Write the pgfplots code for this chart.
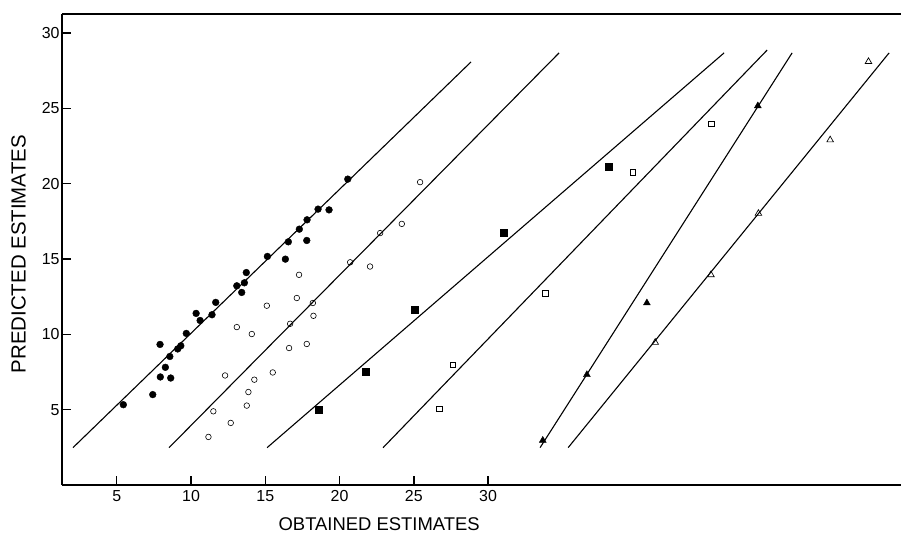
\documentclass[border=0pt]{standalone}
\usepackage{fontspec}
\setmainfont{Liberation Sans}
\usepackage{pgfplots}
\pgfplotsset{compat=1.18}
\begin{document}
\begin{tikzpicture}
\begin{axis}[
  scale only axis,
  width=839bp, height=471bp,
  xmin=1.31, xmax=57.8, ymin=0, ymax=31.26,
  axis lines*=left,
  axis line style={line width=1.3bp},
  tick align=inside,
  major tick length=9bp,
  tick style={line width=1.3bp, black},
  xtick={5,10,15,20,25,30},
  ytick={5,10,15,20,25,30},
  /pgf/number format/assume math mode=true,
  ticklabel style={font=\fontsize{16}{18}\selectfont},
  xticklabel style={yshift=-2bp},
  yticklabel style={xshift=1bp},
  xlabel={OBTAINED ESTIMATES},
  ylabel={PREDICTED ESTIMATES},
  xlabel style={at={(axis description cs:0.378,-0.083)}, anchor=center, font=\fontsize{18.5}{20}\selectfont},
  ylabel style={at={(axis description cs:-0.0518,0.49)}, anchor=center, font=\fontsize{20.5}{22}\selectfont},
  clip=false,
]
\draw[line width=1.3bp] (rel axis cs:0,1) -- (rel axis cs:1,1);
% regression lines
\addplot[black, line width=1.1bp] coordinates {(2.05,2.48) (28.85,28.08)};
\addplot[black, line width=1.1bp] coordinates {(8.52,2.48) (34.78,28.68)};
\addplot[black, line width=1.1bp] coordinates {(15.12,2.48) (45.89,28.68)};
\addplot[black, line width=1.1bp] coordinates {(22.93,2.48) (48.79,28.87)};
\addplot[black, line width=1.1bp] coordinates {(33.5,2.48) (50.47,28.68)};
\addplot[black, line width=1.1bp] coordinates {(35.39,2.48) (57.0,28.68)};
% filled circles
\addplot[only marks, mark=*, mark size=3.4bp, black] coordinates {
(5.44,5.33) (7.42,6.0) (7.91,9.33) (7.93,7.17) (8.27,7.81) (8.63,7.10) (8.57,8.53)
(9.10,9.03) (9.31,9.24) (9.68,10.06) (10.34,11.39) (10.61,10.92) (11.41,11.30)
(11.66,12.12) (13.08,13.22) (13.41,12.78) (13.59,13.42) (13.72,14.10) (15.14,15.17)
(16.35,14.99) (16.55,16.14) (17.29,16.98) (17.79,16.23) (17.81,17.60) (18.55,18.31)
(19.29,18.26) (20.55,20.30)};
% open circles
\addplot[only marks, mark=o, mark size=2.8bp, black, mark options={line width=0.6bp, fill=white}] coordinates {
(15.10,11.90) (13.08,10.48) (14.09,10.02) (12.29,7.27) (11.50,4.89) (11.17,3.19)
(12.67,4.12) (13.86,6.17) (13.75,5.27) (14.26,6.99) (15.50,7.47) (16.60,9.09)
(17.79,9.36) (18.24,11.23) (17.12,12.41) (17.27,13.95) (18.20,12.08) (22.05,14.50)
(22.73,16.72) (24.19,17.33) (20.71,14.78) (25.42,20.10) (16.67,10.70)};
% filled squares
\addplot[only marks, mark=square*, mark size=3.5bp, black] coordinates {
(18.57,5.0) (21.76,7.50) (25.08,11.63) (31.03,16.72) (38.15,21.13)};
% open squares
\addplot[only marks, mark=square, mark size=2.8bp, black, mark options={line width=0.6bp, fill=white}] coordinates {
(26.72,5.05) (27.62,7.98) (33.84,12.74) (39.74,20.75) (45.02,23.97)};
% filled triangles
\addplot[only marks, mark=triangle*, mark size=4bp, black] coordinates {
(33.68,2.96) (36.65,7.32) (40.69,12.08) (48.16,25.16)};
% open triangles
\addplot[only marks, mark=triangle, mark size=3.8bp, black, mark options={line width=0.7bp, fill=white}] coordinates {
(41.25,9.46) (45.0,13.95) (48.2,18.02) (53.03,22.90) (55.61,28.10)};
\end{axis}
\pgfresetboundingbox
\useasboundingbox ([shift={(-62bp,-48bp)}]current axis.south west) rectangle ([shift={(0bp,14bp)}]current axis.north east);
\end{tikzpicture}
\end{document}
